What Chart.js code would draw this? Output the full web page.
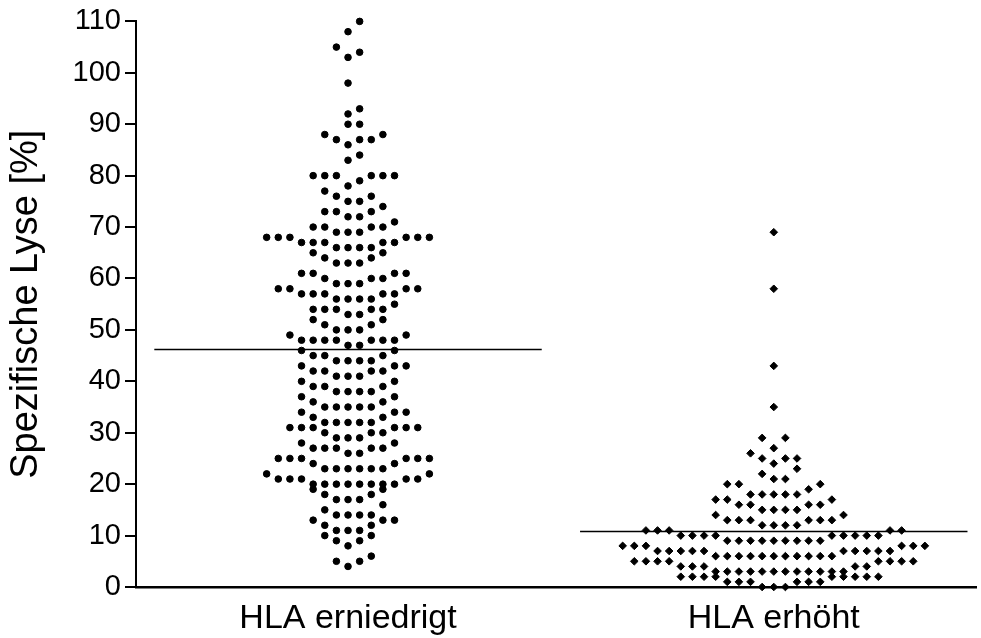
<!DOCTYPE html>
<html>
<head>
<meta charset="utf-8">
<script src="https://cdn.jsdelivr.net/npm/chart.js@4.4.1/dist/chart.umd.min.js"></script>
<style>
  body { margin: 0; background: #fff; }
</style>
</head>
<body>
<canvas id="myChart" width="981" height="638"></canvas>
<script>
// categories
var groups = ['HLA erniedrigt', 'HLA erhöht'];

// values of each swarm, one inner list per row (bottom to top)
var erniedrigtRows = [
    [4, 5, 5, 6],
    [8, 9, 9, 10, 10],
    [11, 11, 11, 12, 12, 13, 13, 13],
    [14, 14, 14, 14, 15, 16],
    [17, 17, 17, 18, 18, 19, 19],
    [20, 20, 20, 20, 20, 20, 20, 20, 21, 21, 21, 21, 21, 22, 22],
    [23, 23, 23, 23, 23, 23, 24, 24, 25, 25, 25, 25, 25, 25],
    [26, 26, 27, 27, 27, 27, 27, 28, 28],
    [29, 29, 29, 30, 30, 30, 31, 31, 31, 31, 31, 31],
    [32, 32, 32, 32, 32, 33, 33, 34, 34, 34],
    [35, 35, 35, 35, 35, 36, 36, 37, 37],
    [38, 38, 38, 38, 39, 39, 39, 40, 40],
    [41, 41, 41, 42, 42, 42, 42, 43, 43, 43],
    [44, 44, 44, 44, 45, 45, 45, 46, 46],
    [47, 47, 48, 48, 48, 48, 48, 48, 48, 49, 49],
    [50, 50, 50, 51, 51, 52, 52],
    [53, 53, 54, 54, 54, 54, 54, 55],
    [56, 56, 56, 56, 57, 57, 57, 57, 57, 58, 58, 58, 58],
    [59, 59, 59, 60, 60, 60, 61, 61, 61, 61],
    [63, 63, 63, 64, 64, 65, 65],
    [66, 66, 66, 66, 67, 67, 67, 67, 67, 68, 68, 68, 68, 68, 68],
    [69, 69, 69, 70, 70, 70, 70, 71],
    [72, 72, 73, 73, 73, 74],
    [75, 75, 76, 76, 77],
    [78, 79, 80, 80, 80, 80, 80, 80],
    [83, 84],
    [86, 87, 87, 87, 88, 88],
    [90, 90],
    [92, 93],
    [98],
    [103, 104, 105],
    [108, 110]
];
var erhoehtRows = [
    [0, 0, 0, 1, 1, 1, 1, 1, 1, 2, 2, 2, 2, 2, 2, 2, 2, 2],
    [3, 3, 3, 3, 3, 3, 3, 3, 3, 3, 3, 3, 4, 4, 4, 4, 4, 5, 5, 5, 5, 5, 5, 5, 5],
    [6, 6, 6, 6, 6, 6, 6, 6, 6, 6, 6, 7, 7, 7, 7, 7, 7, 7, 7, 7, 7, 8, 8, 8, 8, 8, 8],
    [9, 9, 9, 9, 9, 9, 9, 9, 9, 10, 10, 10, 10, 10, 10, 10, 10, 10, 11, 11, 11, 11, 11],
    [12, 12, 12, 12, 13, 13, 13, 13, 13, 13, 14, 14],
    [15, 15, 15, 15, 16, 16, 16, 16, 17, 17, 17],
    [18, 18, 18, 18, 18, 19, 20, 20, 20],
    [21, 21, 22, 23],
    [24, 25, 25, 25, 26],
    [27, 29, 29],
    [35],
    [43],
    [58],
    [69]
];
var medians = [46.2, 10.8];
var yTicks = [0, 10, 20, 30, 40, 50, 60, 70, 80, 90, 100, 110];

var dotStep = 0.0273;   // horizontal gap between dots of one row (x units)
var medianHalf = 0.455;

// lowest value of a row in the middle, then alternating right / left
function swarm(rows, center) {
    var pts = [];
    rows.forEach(function(row) {
        row.slice().sort(function(a, b) { return a - b; }).forEach(function(v, i) {
            var slot = i === 0 ? 0 : (i % 2 ? (i + 1) / 2 : -i / 2);
            pts.push({x: center + slot * dotStep, y: v});
        });
    });
    return pts;
}

function medianLine(i) {
    return [{x: i - medianHalf, y: medians[i]}, {x: i + medianHalf, y: medians[i]}];
}

Chart.defaults.font.family = "'Liberation Sans', Arial, Helvetica, sans-serif";
Chart.defaults.color = '#000';

var ctx = document.getElementById('myChart').getContext('2d');
var chart = new Chart(ctx, {
    type: 'scatter',
    data: {
        datasets: [
            {
                data: swarm(erniedrigtRows, 0),
                pointStyle: 'circle',
                pointRadius: 3.3,
                pointBorderWidth: 1,
                backgroundColor: '#000',
                borderColor: '#000',
                clip: false
            },
            {
                data: swarm(erhoehtRows, 1),
                pointStyle: 'rectRot',
                pointRadius: 3.8,
                pointBorderWidth: 1,
                backgroundColor: '#000',
                borderColor: '#000',
                clip: false
            },
            {
                type: 'line',
                data: medianLine(0),
                borderColor: '#000',
                borderWidth: 1.6,
                pointRadius: 0
            },
            {
                type: 'line',
                data: medianLine(1),
                borderColor: '#000',
                borderWidth: 1.6,
                pointRadius: 0
            }
        ]
    },
    options: {
        responsive: false,
        animation: false,
        events: [],
        layout: { padding: { top: 21, right: 0, bottom: 0, left: 0 } },
        plugins: { legend: { display: false }, tooltip: { enabled: false } },
        scales: {
            x: {
                type: 'linear',
                min: -0.498,
                max: 1.475,
                afterBuildTicks: function(axis) {
                    axis.ticks = groups.map(function(g, i) { return {value: i}; });
                },
                afterFit: function(axis) { axis.height = 51; },
                ticks: {
                    callback: function(v) { return groups[v]; },
                    font: { size: 34 },
                    padding: 3,
                    maxRotation: 0,
                    autoSkip: false
                },
                grid: { display: false },
                border: { color: '#000', width: 2.5 }
            },
            y: {
                min: 0,
                max: 110,
                afterBuildTicks: function(axis) {
                    axis.ticks = yTicks.map(function(v) { return {value: v}; });
                },
                afterFit: function(axis) { axis.width = 136; },
                ticks: { font: { size: 29 }, padding: 4 },
                grid: { drawOnChartArea: false, color: '#000', lineWidth: 2, tickLength: 11 },
                border: { color: '#000', width: 2 },
                title: {
                    display: true,
                    text: 'Spezifische Lyse [%]',
                    font: { size: 38 },
                    padding: { top: 4, bottom: 0 }
                }
            }
        }
    }
});
</script>
</body>
</html>
